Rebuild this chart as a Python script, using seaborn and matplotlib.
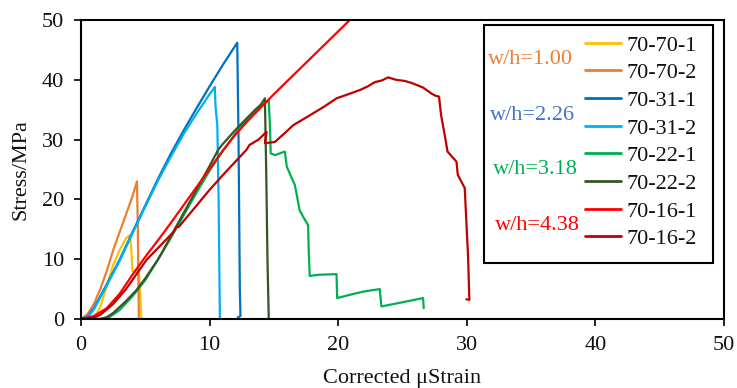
import numpy as np
import pandas as pd
import matplotlib
matplotlib.use("Agg")
import matplotlib.pyplot as plt
import seaborn as sns
from matplotlib.lines import Line2D
from matplotlib.patches import Rectangle

# ---------------- data ----------------
s70_70_1_x = [0, 1.0, 1.5, 2.0, 2.5, 3.0, 3.5, 3.8, 3.9, 4.0, 4.2, 4.5, 4.6, 4.7]
s70_70_1_y = [0, 0.1, 2.0, 5.5, 9.0, 11.5, 13.5, 14.0, 12.0, 8.0, 7.9, 7.9, 4.0, 0]

s70_70_2_x = [0, 0.5, 1.0, 1.5, 2.0, 2.5, 3.0, 3.5, 4.0, 4.35, 4.42, 4.5]
s70_70_2_y = [0, 0.8, 2.5, 5.0, 8.0, 11.5, 14.5, 17.5, 20.5, 23.0, 15.0, 0]

s70_31_1_x = [0, 0.5, 1, 1.5, 2, 3, 4, 5, 6, 7, 8, 9, 10, 11, 12.15, 12.25, 12.35, 12.4, 12.2]
s70_31_1_y = [0, 0.4, 1.8, 3.8, 5.8, 9.9, 14.5, 19.0, 23.5, 27.7, 31.6, 35.3, 38.9, 42.4, 46.2, 30, 5, 0.5, 0.3]

s70_31_2_x = [0, 0.5, 1, 1.5, 2, 3, 4, 5, 6, 7, 8, 9, 10, 10.41, 10.45, 10.5, 10.6, 10.7, 10.8]
s70_31_2_y = [0, 0.3, 1.6, 3.6, 5.6, 9.7, 14.3, 18.8, 23.2, 27.2, 31.0, 34.4, 37.6, 38.8, 36.0, 34.6, 32.5, 20, 0]

s70_22_1_x = [0, 1.5, 2.2, 3, 4, 5, 6, 7, 8, 9, 10, 11, 12, 13, 14, 14.6, 14.7, 14.75,
              15.1, 15.46, 15.85, 16.0, 16.3, 16.63, 16.8, 17.0, 17.3, 17.66, 17.7, 17.74,
              17.79, 18.5, 19.87, 19.92, 21.0, 22.0, 23.23, 23.36, 25.0, 26.6, 26.65]
s70_22_1_y = [0, 0, 0.3, 1.5, 3.8, 6.5, 10.0, 13.6, 17.4, 21.2, 24.8, 28.0, 31.0, 33.6, 35.6, 36.6, 32.0, 27.7,
              27.4, 27.7, 28.0, 25.5, 24.0, 22.4, 20.5, 18.2, 17.0, 15.7, 12.0, 9.6,
              7.2, 7.4, 7.5, 3.5, 4.1, 4.6, 5.0, 2.1, 2.8, 3.5, 1.8]

s70_22_2_x = [0, 1.5, 2.0, 2.5, 3, 3.5, 4.3, 5, 6, 6.4, 7, 8, 9, 10, 10.67, 11, 12, 13, 13.5, 14, 14.3, 14.4, 14.5, 14.6]
s70_22_2_y = [0, 0, 0.3, 1.0, 2.0, 3.0, 4.8, 6.8, 10.0, 11.5, 13.9, 17.8, 21.7, 25.6, 28.3, 29.2, 31.6, 33.8, 34.9, 35.9, 36.9, 25, 10, 0]

s70_16_1_x = [0, 1, 2, 3, 4, 5, 6, 7, 8, 9, 10, 11, 12, 13, 14, 15, 16, 17, 18, 19, 20, 20.9, 21.5]
s70_16_1_y = [0, 0.5, 1.8, 4.2, 7.4, 10.4, 13.2, 16.1, 19.1, 22.1, 25.1, 28.1, 30.8, 33.2, 35.4, 37.6, 39.7, 41.8, 43.9, 46.0, 48.1, 50.0, 51.2]

s70_16_2_x = [0, 1.0, 1.5, 2.5, 3.5, 5.1, 6.5, 7.2, 7.43, 7.6, 9, 10, 11, 12, 12.87, 13.1, 13.8, 14.43, 14.3,
              15.07, 15.8, 16.5, 17.2, 17.9, 18.9, 19.87, 20.8, 21.7, 22.3, 22.84, 23.4, 23.88, 24.5, 25.2,
              25.8, 26.6, 27.25, 27.6, 27.84, 28.0, 28.28, 28.5, 29.2, 29.3, 29.84, 30.1, 30.2, 29.97]
s70_16_2_y = [0, 0.2, 0.7, 2.5, 5.0, 9.9, 13.0, 14.6, 15.4, 15.4, 19.0, 21.6, 24.0, 26.3, 28.3, 29.1, 30.0, 31.3, 29.4,
              29.6, 31.0, 32.4, 33.3, 34.2, 35.5, 36.9, 37.6, 38.3, 38.9, 39.6, 39.9, 40.4, 40.0, 39.8,
              39.4, 38.7, 37.7, 37.3, 37.2, 34.1, 30.8, 28.0, 26.3, 24.1, 21.9, 10.4, 3.2, 3.3]

names = ["70-70-1", "70-70-2", "70-31-1", "70-31-2", "70-22-1", "70-22-2", "70-16-1", "70-16-2"]
colors = ["#FFC000", "#ED7D31", "#0070C0", "#00B0F0", "#00B050", "#375623", "#FF0000", "#C00000"]
group_labels = ["w/h=1.00", "w/h=2.26", "w/h=3.18", "w/h=4.38"]
group_colors = ["#ED7D31", "#4472C4", "#00B050", "#FF0000"]
x_ticks = [0, 10, 20, 30, 40, 50]
y_ticks = [0, 10, 20, 30, 40, 50]

series = [(s70_70_1_x, s70_70_1_y), (s70_70_2_x, s70_70_2_y), (s70_31_1_x, s70_31_1_y),
          (s70_31_2_x, s70_31_2_y), (s70_22_1_x, s70_22_1_y), (s70_22_2_x, s70_22_2_y),
          (s70_16_1_x, s70_16_1_y), (s70_16_2_x, s70_16_2_y)]

frames = []
for n, (xs, ys) in zip(names, series):
    frames.append(pd.DataFrame({"strain": xs, "stress": ys, "specimen": n}))
df = pd.concat(frames, ignore_index=True)

# ---------------- plot ----------------
sns.set_theme(style="white")
plt.rcParams["font.family"] = ["Liberation Serif", "DejaVu Serif"]

W, H = 737, 388
fig = plt.figure(figsize=(W / 100, H / 100), dpi=100)
ax = fig.add_axes([81 / W, 1 - 319 / H, (724 - 81) / W, (319 - 20) / H])

sns.lineplot(data=df, x="strain", y="stress", hue="specimen", hue_order=names,
             palette=dict(zip(names, colors)), sort=False, estimator=None,
             units="specimen", linewidth=1.6, legend=False, ax=ax)

ax.set_xlim(0, 50)
ax.set_ylim(0, 50)
ax.set_xticks(x_ticks)
ax.set_yticks(y_ticks)
ax.tick_params(axis="both", direction="out", length=5, width=1.2, color="black",
               labelsize=16, labelcolor="#111111", pad=7, bottom=True, left=True)
for sp in ax.spines.values():
    sp.set_visible(True)
    sp.set_color("black")
    sp.set_linewidth(1.5)
ax.set_xlabel("Corrected μStrain", fontsize=16, color="#111111", labelpad=10)
ax.set_ylabel("Stress/MPa", fontsize=16, color="#111111", labelpad=8)

# legend box
rect = Rectangle((484 / W, 1 - 263 / H), (713 - 484) / W, (263 - 25) / H,
                 transform=fig.transFigure, fill=True, facecolor="white",
                 edgecolor="black", linewidth=1.5, zorder=5)
fig.add_artist(rect)

handles = [Line2D([0], [0], color=c, lw=2) for c in colors]
leg = fig.legend(handles, names, loc="upper left", bbox_to_anchor=(585 / W, 1 - 35 / H),
                 bbox_transform=fig.transFigure, frameon=False, fontsize=16,
                 handlelength=1.6, handletextpad=0.25, labelspacing=0.32, borderpad=0,
                 borderaxespad=0)
leg.set_zorder(6)
for t in leg.get_texts():
    t.set_color("#111111")

group_pos = [(530, 59), (532, 115), (535, 170), (537, 225)]
for (gx, gy), lab, col in zip(group_pos, group_labels, group_colors):
    fig.text(gx / W, 1 - gy / H, lab, color=col, fontsize=16, ha="center", va="center", zorder=7)

fig.savefig("out.png", dpi=100)
